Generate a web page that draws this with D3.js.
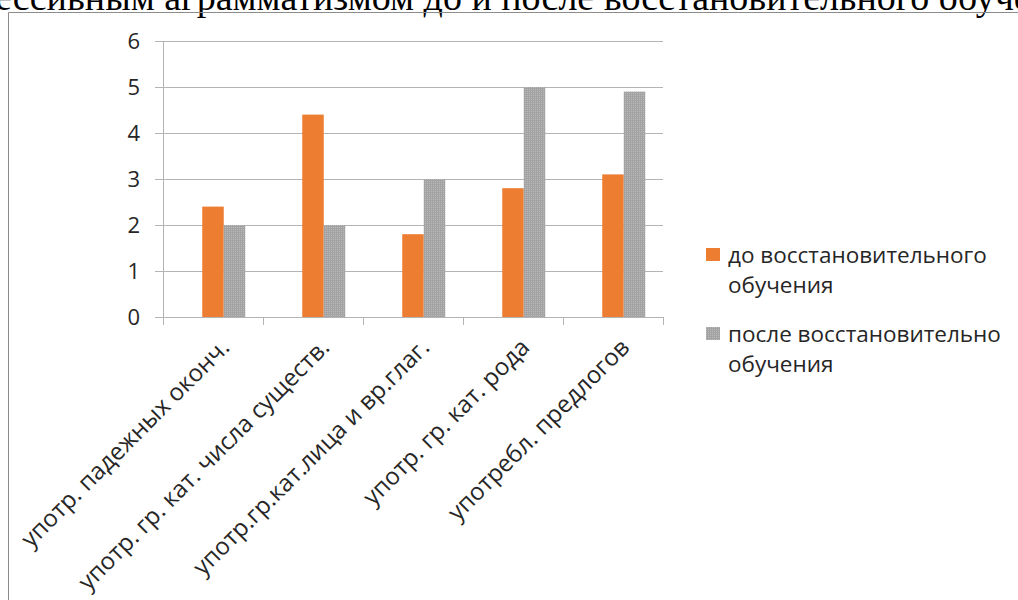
<!DOCTYPE html>
<html lang="ru">
<head>
<meta charset="UTF-8">
<title>Грамматизм</title>
<script src="https://d3js.org/d3.v7.min.js"></script>
<style>
    body { margin: 0; background: #fff; overflow: hidden; }
    .axis text, .label, .legend text { font-family: "Open Sans", sans-serif; fill: #262626; }
</style>
</head>
<body>
<div id="chart"></div>
<script>
    const width = 1018;
    const height = 600;

    const categories = [
        "употр. падежных оконч.",
        "употр. гр. кат. числа существ.",
        "употр.гр.кат.лица и вр.глаг.",
        "употр. гр. кат. рода",
        "употребл. предлогов"
    ];
    const beforeValues = [2.4, 4.4, 1.8, 2.8, 3.1];
    const afterValues = [2.0, 2.0, 3.0, 5.0, 4.9];
    const yTicks = [0, 1, 2, 3, 4, 5, 6];
    const legendLabels = [
        ["до восстановительного", "обучения"],
        ["после восстановительно", "обучения"]
    ];
    const titleText = "ессивным аграмматизмом до и после восстановительного обучения";

    const margin = { top: 41, left: 163, right: 355, bottom: 283 };
    const plotW = width - margin.left - margin.right;
    const plotH = height - margin.top - margin.bottom;

    const svg = d3.select("#chart")
        .append("svg")
        .attr("width", width)
        .attr("height", height);

    const defs = svg.append("defs");
    const pat = defs.append("pattern")
        .attr("id", "stipple")
        .attr("width", 2)
        .attr("height", 2)
        .attr("patternUnits", "userSpaceOnUse");
    pat.append("rect").attr("width", 2).attr("height", 2).attr("fill", "#a3a3a3");
    pat.append("rect").attr("width", 1).attr("height", 1).attr("fill", "#b9b9b9");

    // cut-off heading from the document above the chart
    svg.append("text")
        .attr("x", -5)
        .attr("y", 10)
        .attr("font-family", "Liberation Serif, serif")
        .attr("font-size", 38)
        .attr("fill", "#000")
        .text(titleText);

    // chart frame
    svg.append("path")
        .attr("d", `M${width + 5},12.5H8.5V${height + 5}`)
        .attr("fill", "none")
        .attr("stroke", "#8c8c8c")
        .attr("stroke-width", 1);

    const g = svg.append("g")
        .attr("transform", `translate(${margin.left},${margin.top})`);

    const y = d3.scaleLinear().domain([0, 6]).range([plotH, 0]);
    const x0 = d3.scaleBand().domain(categories).range([0, plotW]).padding(0);
    // three slots per category, the first one is an empty series in the source chart
    const x1 = d3.scaleBand().domain([0, 1, 2]).range([0, x0.bandwidth()])
        .paddingInner(0).paddingOuter(0.825);

    // gridlines
    g.append("g")
        .selectAll("line")
        .data(yTicks)
        .join("line")
        .attr("x1", -8)
        .attr("x2", plotW)
        .attr("y1", d => Math.round(y(d)) + 0.5)
        .attr("y2", d => Math.round(y(d)) + 0.5)
        .attr("stroke", "#b4b4b4");

    // y axis labels
    g.append("g")
        .attr("class", "axis")
        .call(d3.axisLeft(y).tickValues(yTicks).tickFormat(d3.format("d")).tickSize(0).tickPadding(23))
        .call(a => a.select(".domain").remove())
        .call(a => a.selectAll("text").attr("font-size", 22).attr("dy", "0.36em"));

    // y axis line
    g.append("line")
        .attr("x1", 0.5).attr("x2", 0.5)
        .attr("y1", 0).attr("y2", plotH + 8)
        .attr("stroke", "#b4b4b4");

    // category tick marks
    g.append("g")
        .selectAll("line")
        .data(categories.map((c, i) => i + 1))
        .join("line")
        .attr("x1", i => Math.round(i * x0.step()) + 0.5)
        .attr("x2", i => Math.round(i * x0.step()) + 0.5)
        .attr("y1", plotH)
        .attr("y2", plotH + 8)
        .attr("stroke", "#b4b4b4");

    const groups = g.append("g")
        .selectAll("g")
        .data(categories)
        .join("g")
        .attr("transform", d => `translate(${x0(d)},0)`);

    groups.append("rect")
        .attr("x", x1(1))
        .attr("y", (d, i) => y(beforeValues[i]))
        .attr("width", x1.bandwidth())
        .attr("height", (d, i) => plotH - y(beforeValues[i]))
        .attr("fill", "#ed7d31");

    groups.append("rect")
        .attr("x", x1(2))
        .attr("y", (d, i) => y(afterValues[i]))
        .attr("width", x1.bandwidth())
        .attr("height", (d, i) => plotH - y(afterValues[i]))
        .attr("fill", "url(#stipple)");

    // rotated category labels
    g.append("g")
        .selectAll("text")
        .data(categories)
        .join("text")
        .attr("class", "label")
        .attr("font-size", 24)
        .attr("text-anchor", "end")
        .attr("transform", d => `translate(${x0(d) + x0.bandwidth() / 2 + 6},${plotH + 20}) rotate(-45)`)
        .attr("dy", "0.7em")
        .text(d => d);

    // legend
    const legendColors = ["#ed7d31", "url(#stipple)"];
    const legend = svg.append("g")
        .attr("class", "legend")
        .attr("transform", "translate(706,248)");

    legendLabels.forEach((lines, i) => {
        const item = legend.append("g").attr("transform", `translate(0,${i * 79})`);
        item.append("rect")
            .attr("width", 14)
            .attr("height", 13)
            .attr("fill", legendColors[i]);
        const t = item.append("text")
            .attr("font-size", 22.5)
            .attr("x", 22)
            .attr("y", 7);
        lines.forEach((line, j) => {
            t.append("tspan")
                .attr("x", 22)
                .attr("dy", j === 0 ? "0.36em" : 30)
                .text(line);
        });
    });
</script>
</body>
</html>
